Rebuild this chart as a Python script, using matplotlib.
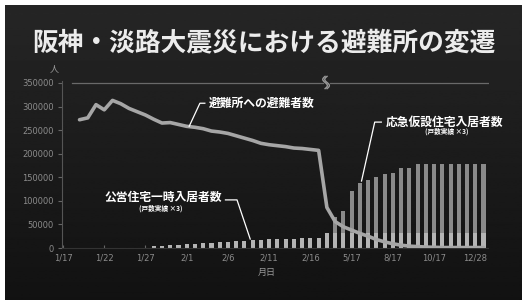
import numpy as np
import matplotlib.pyplot as plt

nan = np.nan

# 避難所への避難者数 (one value per slot, slots 0..30 are daily 1/17..2/16)
evacuees = [nan, nan, 272000, 276000, 304000, 293000, 313000, 306000, 296000, 289000,
            282000, 273000, 265000, 266000, 262000, 258000, 256000, 253000, 248000, 246000,
            243000, 238000, 233000, 228000, 222000, 219000, 217000, 215000, 212000, 211000,
            209000, 207000, 86000, 56000, 45000, 38000, 31000, 25000, 18000, 13000,
            9000, 6000, 4000, 3000, 2000, 1500, 1000, 1000, 1000, 1000,
            1000, 1000]

# 公営住宅一時入居者数 (戸数実績×3)
public_housing = [0] * 11 + [4000, 5000, 6000, 7000, 8000, 9000, 10000, 11000, 12000,
                             13000, 14500, 15500, 17000, 18000, 19000, 19500, 20000,
                             20000, 20500, 21000, 21000, 32000] + [32000] * 19

# 応急仮設住宅入居者数 (戸数実績×3)
temp_housing = [0] * 33 + [34000, 46000, 89000, 106000, 112000, 118000, 125000, 127000,
                           137000, 137000] + [146000] * 9

tick_pos = [0, 5, 10, 15, 20, 25, 30, 35, 40, 45, 50]
tick_labels = ['1/17', '1/22', '1/27', '2/1', '2/6', '2/11', '2/16',
               '5/17', '8/17', '10/17', '12/28']
y_ticks = [0, 50000, 100000, 150000, 200000, 250000, 300000, 350000]

jp = ['Noto Sans CJK JP', 'DejaVu Sans']
num = ['Liberation Sans Narrow', 'DejaVu Sans']
plt.rcParams['font.family'] = jp

fig = plt.figure(figsize=(5.22, 3.0), dpi=100)
fig.patch.set_facecolor('white')

# dark panel, a bit lighter at the top
bg = fig.add_axes([5 / 522, 0, 517 / 522, 295 / 300])
grad = np.linspace(0, 1, 256).reshape(-1, 1)
bg.imshow(grad, aspect='auto', cmap='gray', vmin=-0.9, vmax=12, origin='lower',
          extent=(0, 1, 0, 1))
bg.axis('off')

ax = fig.add_axes([62.2 / 522, 52 / 300, 426.3 / 522, 167.4 / 300])
ax.set_facecolor('none')

x = np.arange(len(evacuees))
ax.bar(x, public_housing, width=0.5, color='#b4b4b4', zorder=2)
ax.bar(x, temp_housing, width=0.5, bottom=public_housing, color='#8a8a8a', zorder=2)
ax.plot(x, evacuees, color='#a6a6a6', lw=2.6, solid_capstyle='round',
        solid_joinstyle='round', zorder=3)

ax.set_xlim(-0.1, 51.6)
ax.set_ylim(0, 355000)

# top reference line with a break mark between 2/16 and later dates
brk = 31.9
ax.plot([1.1, brk - 0.35], [350000, 350000], color='#6a6a6a', lw=0.9, zorder=1)
ax.plot([brk + 0.45, 51.6], [350000, 350000], color='#6a6a6a', lw=0.9, zorder=1)
t = np.linspace(0, 1, 40)
for dx in (-0.12, 0.12):
    ax.plot(brk + dx + 0.28 * np.sin(t * 2 * np.pi), 338000 + t * 26000,
            color='#9a9a9a', lw=1.0, clip_on=False, zorder=4)

ax.set_xticks(tick_pos)
ax.set_xticklabels(tick_labels, fontfamily=num, fontsize=6, color='#8c8c8c')
ax.set_yticks(y_ticks)
ax.set_yticklabels([str(v) for v in y_ticks], fontfamily=num, fontsize=6, color='#8c8c8c')
ax.tick_params(axis='x', direction='in', length=2, color='#666666', pad=4)
ax.tick_params(axis='y', direction='out', length=3, color='#666666', pad=3)
for s in ('top', 'right'):
    ax.spines[s].set_visible(False)
ax.spines['left'].set_color('#555555')
ax.spines['bottom'].set_color('#333333')

ax.text(-1.1, 370000, '人', fontsize=6.5, color='#9a9a9a', ha='center', va='bottom')
ax.text(24.7, -51000, '月日', fontsize=6.5, color='#9a9a9a', ha='center', va='center')

lead = dict(color='white', lw=0.9, zorder=5)
ann = dict(color='white', fontsize=8.5, fontweight='bold', va='center', zorder=5)
sub = dict(color='white', fontsize=4.8, fontweight='bold', ha='center', va='center', zorder=5)

# evacuee line label
ax.plot([15.3, 16.6, 17.2], [evacuees[15], 307000, 307000], **lead)
ax.text(17.7, 307000, '避難所への避難者数', ha='left', **ann)

# public housing label
ax.plot([22.7, 21.1, 19.7], [public_housing[23] + 2000, 102000, 102000], **lead)
ax.text(19.3, 108000, '公営住宅一時入居者数', ha='right', **ann)
ax.text(11.8, 85000, '(戸数実績 ×3)', **sub)

# temporary housing label
ax.plot([36.2, 37.8, 38.6], [public_housing[36] + temp_housing[36] + 4000, 267000, 267000], **lead)
ax.text(39.2, 267000, '応急仮設住宅入居者数', ha='left', clip_on=False, **ann)
ax.text(46.5, 247000, '(戸数実績 ×3)', **sub)

fig.text(0.505, 0.857, '阪神・淡路大震災における避難所の変遷', fontsize=18.5,
         fontweight='bold', color='#ececec', ha='center', va='center')

fig.savefig('out.png', dpi=100, facecolor=fig.get_facecolor())
